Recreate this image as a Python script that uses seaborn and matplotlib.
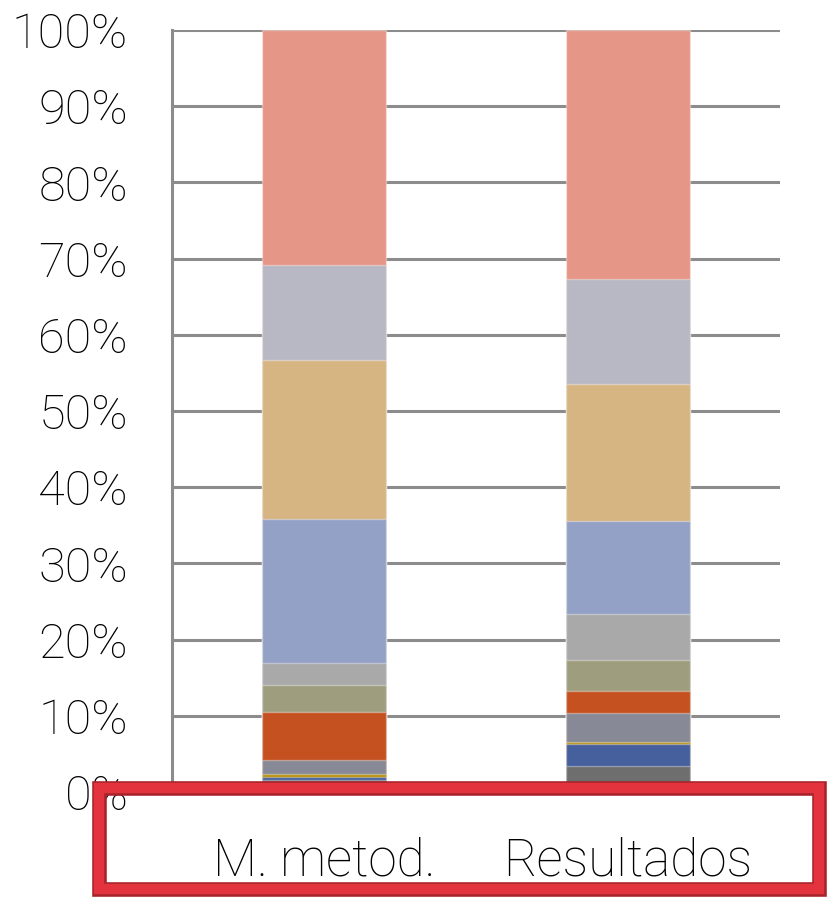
import matplotlib
matplotlib.use("Agg")
import matplotlib.pyplot as plt
from matplotlib.patches import Rectangle
import numpy as np
import pandas as pd
import seaborn as sns

sns.set_style("white")
plt.rcParams["font.family"] = ["Roboto", "DejaVu Sans"]
plt.rcParams["font.weight"] = "light"

# categories and stacked segment shares (%), bottom to top
categories = ["M. metod.", "Resultados"]
series_names = ["S1", "S2", "S3", "S4", "S5", "S6", "S7", "S8", "S9", "S10", "S11"]
metod_vals = [1.6, 0.4, 0.4, 1.8, 6.3, 3.6, 2.8, 18.9, 20.9, 12.5, 30.8]
result_vals = [3.4, 2.9, 0.2, 3.9, 2.8, 4.1, 6.0, 12.3, 17.9, 13.8, 32.7]
colors = ["#6E6E6E", "#46609E", "#B8900A", "#878A96", "#C55120", "#9E9E7E",
          "#A9A9A9", "#93A1C6", "#D7B583", "#B8B8C4", "#E69686"]
y_ticks = [0, 10, 20, 30, 40, 50, 60, 70, 80, 90, 100]

df = pd.DataFrame({"cat": categories})
cum_m = np.cumsum(metod_vals)
cum_r = np.cumsum(result_vals)
for i, name in enumerate(series_names):
    df[name] = [cum_m[i], cum_r[i]]

fig = plt.figure(figsize=(8.27, 8.98), dpi=100)
ax = fig.add_axes([172 / 827, 1 - 792 / 898, (780 - 172) / 827, (792 - 30) / 898])

# draw cumulative bars from top segment down so each segment shows
for name, col in reversed(list(zip(series_names, colors))):
    sns.barplot(data=df, x="cat", y=name, order=categories, color=col,
                saturation=1, width=0.405, errorbar=None, ax=ax,
                edgecolor=(1, 1, 1, 0.35), linewidth=1, zorder=3)

grid_c = "#8C8C8C"
ax.set_xlim(-0.5, 1.5)
ax.set_ylim(0, 100)
ax.set_yticks(y_ticks)
ax.set_yticklabels([f"{t}%" for t in y_ticks])
ax.yaxis.grid(True, color=grid_c, linewidth=2.2, zorder=0)
ax.set_axisbelow(True)
ax.set_xlabel("")
ax.set_ylabel("")

for s in ["top", "right"]:
    ax.spines[s].set_visible(False)
for s in ["left", "bottom"]:
    ax.spines[s].set_color(grid_c)
    ax.spines[s].set_linewidth(2.2)

ax.tick_params(axis="y", length=10.8, width=1.6, color=grid_c, pad=21,
               labelsize=35, labelcolor="black")
ax.tick_params(axis="x", which="major", length=0, pad=32, labelsize=37,
               labelcolor="black")
ax.set_xticks([-0.5, 0.5, 1.5], minor=True)
ax.tick_params(axis="x", which="minor", length=11.5, width=1.6, color=grid_c)

# red highlight frame over the category labels
x0, x1 = 99 / 827, 819 / 827
y0, y1 = 1 - 889 / 898, 1 - 788 / 898
fig.add_artist(Rectangle((x0, y0), x1 - x0, y1 - y0, transform=fig.transFigure,
                         fill=False, edgecolor="#A8232B", linewidth=10.5, zorder=10))
fig.add_artist(Rectangle((x0, y0), x1 - x0, y1 - y0, transform=fig.transFigure,
                         fill=False, edgecolor="#E3343E", linewidth=7.5, zorder=11))

fig.savefig("out.png", dpi=100)
